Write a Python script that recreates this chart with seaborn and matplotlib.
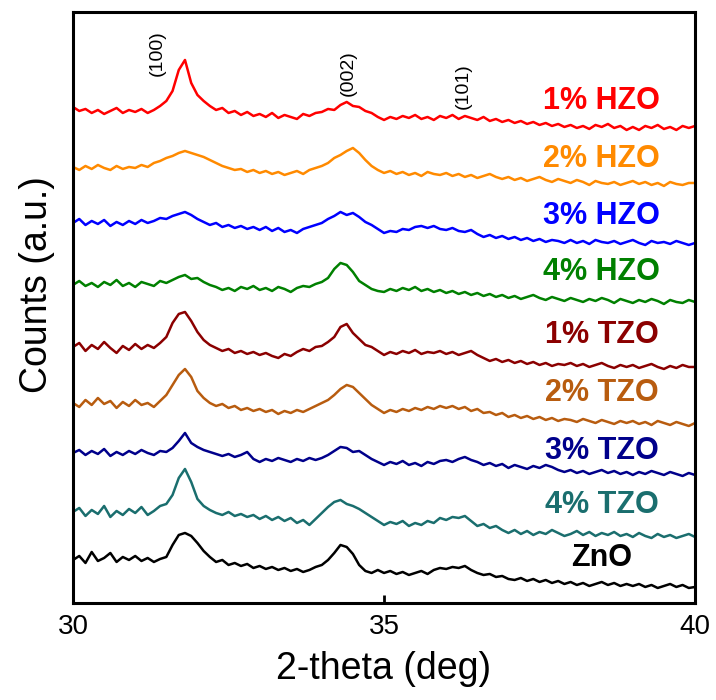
import numpy as np
import pandas as pd
import seaborn as sns
import matplotlib.pyplot as plt

# 2-theta grid (deg), one reading every 0.1 deg
two_theta = [round(30 + 0.1 * i, 1) for i in range(101)]

# intensities (a.u.), already stacked as in the figure
hzo_1 = [496, 492, 494, 490, 493, 489, 492, 495, 490, 493,
         491, 494, 490, 493, 497, 502, 512, 533, 543, 520,
         508, 502, 497, 493, 495, 490, 492, 488, 491, 487,
         489, 486, 490, 485, 488, 486, 484, 489, 487, 490,
         491, 494, 493, 498, 501, 497, 496, 492, 490, 486,
         483, 486, 484, 487, 485, 488, 484, 486, 483, 487,
         485, 488, 484, 487, 485, 483, 486, 482, 484, 481,
         483, 480, 482, 479, 481, 478, 480, 477, 479, 476,
         478, 475, 477, 474, 478, 476, 479, 475, 477, 473,
         476, 473, 477, 475, 478, 474, 476, 473, 477, 475, 477]
hzo_2 = [436, 433, 437, 434, 438, 435, 433, 437, 434, 436,
         435, 438, 436, 440, 442, 445, 447, 450, 452, 450,
         448, 446, 443, 440, 437, 435, 433, 434, 431, 433,
         430, 432, 429, 431, 428, 430, 432, 429, 433, 435,
         437, 440, 445, 448, 452, 455, 450, 443, 437, 433,
         430, 432, 429, 431, 428, 430, 427, 431, 429, 428,
         430, 427, 429, 426, 428, 425, 427, 429, 426, 424,
         426, 423, 425, 422, 424, 426, 423, 421, 424, 422,
         420, 423, 421, 418, 422, 420, 419, 421, 418, 420,
         422, 419, 421, 418, 420, 417, 421, 419, 418, 420, 420]
hzo_3 = [380, 384, 378, 382, 379, 383, 377, 381, 378, 382,
         379, 383, 380, 382, 385, 384, 387, 389, 391, 388,
         384, 381, 378, 380, 376, 378, 375, 377, 374, 376,
         373, 376, 372, 375, 371, 373, 370, 374, 376, 378,
         380, 384, 387, 391, 388, 390, 386, 381, 378, 374,
         370, 372, 371, 374, 373, 376, 377, 375, 377, 374,
         373, 375, 372, 371, 373, 369, 366, 368, 365, 367,
         364, 366, 363, 365, 362, 364, 361, 363, 362, 360,
         363, 360, 362, 359, 363, 361, 360, 362, 359, 361,
         363, 360, 358, 362, 360, 361, 359, 362, 360, 358, 360]
hzo_4 = [318, 322, 317, 320, 316, 321, 318, 323, 317, 320,
         316, 321, 319, 317, 322, 320, 323, 326, 328, 324,
         325, 321, 318, 316, 313, 315, 312, 316, 314, 317,
         313, 315, 312, 316, 314, 311, 315, 317, 316, 319,
         321, 325, 334, 340, 338, 331, 322, 318, 314, 312,
         311, 314, 312, 315, 313, 316, 312, 314, 311, 313,
         310, 312, 309, 311, 308, 310, 307, 309, 306, 308,
         305, 307, 304, 306, 308, 305, 303, 306, 304, 302,
         305, 303, 301, 304, 302, 305, 303, 300, 304, 302,
         300, 303, 301, 304, 302, 299, 303, 301, 300, 303, 301]
tzo_1 = [256, 260, 252, 258, 254, 261, 255, 250, 257, 253,
         259, 254, 258, 255, 260, 266, 280, 289, 291, 282,
         271, 263, 258, 255, 252, 254, 250, 252, 249, 251,
         248, 250, 247, 245, 249, 247, 251, 254, 252, 256,
         257, 261, 266, 276, 279, 270, 264, 258, 256, 252,
         248, 251, 249, 252, 250, 253, 249, 251, 250, 252,
         249, 251, 248, 250, 252, 248, 245, 242, 244, 241,
         243, 240, 242, 239, 241, 238, 240, 237, 239, 238,
         240, 237, 239, 236, 238, 240, 237, 235, 238, 236,
         238, 235, 237, 239, 236, 234, 237, 235, 238, 236, 236]
tzo_2 = [200, 196, 203, 198, 205, 199, 202, 195, 201, 197,
         203, 198, 200, 196, 202, 208, 218, 228, 234, 226,
         212, 205, 200, 197, 199, 195, 197, 193, 195, 192,
         194, 191, 193, 189, 192, 190, 193, 191, 194, 197,
         200, 203, 208, 214, 218, 216, 210, 204, 198, 194,
         190, 193, 191, 194, 192, 195, 193, 196, 194, 197,
         195, 197, 194, 196, 192, 194, 190, 191, 188, 190,
         186, 188, 185, 187, 184, 186, 183, 185, 182, 184,
         183, 181, 184, 182, 180, 183, 181, 179, 182, 180,
         182, 179, 181, 178, 182, 180, 178, 181, 179, 177, 180]
tzo_3 = [150, 153, 148, 152, 149, 154, 147, 151, 148, 152,
         149, 153, 150, 148, 152, 151, 155, 162, 170, 160,
         156, 153, 151, 149, 147, 149, 146, 148, 151, 144,
         141, 144, 142, 145, 143, 141, 144, 142, 145, 143,
         145, 148, 152, 156, 155, 151, 152, 148, 144, 141,
         138, 141, 139, 142, 138, 140, 137, 141, 139, 142,
         143, 141, 144, 146, 143, 141, 138, 140, 137, 139,
         135, 138, 136, 134, 137, 135, 138, 136, 133, 131,
         133, 130, 132, 129, 131, 133, 130, 132, 129, 131,
         128, 131, 129, 132, 130, 128, 131, 129, 127, 130, 128]
tzo_4 = [91, 95, 87, 93, 89, 97, 86, 92, 88, 94,
         90, 96, 88, 92, 97, 99, 108, 125, 134, 121,
         104, 97, 93, 90, 88, 91, 87, 89, 86, 88,
         84, 87, 83, 86, 82, 85, 80, 83, 78, 84,
         90, 96, 101, 103, 99, 97, 94, 90, 86, 82,
         78, 81, 79, 82, 77, 80, 78, 82, 80, 85,
         83, 86, 85, 87, 82, 77, 79, 75, 77, 73,
         70, 73, 69, 72, 68, 71, 69, 73, 70, 67,
         69, 72, 68, 71, 67, 70, 68, 71, 67, 69,
         66, 70, 67, 65, 69, 66, 68, 65, 67, 69, 66]
zno = [43, 47, 40, 51, 42, 45, 50, 41, 46, 43,
       47, 42, 45, 41, 44, 46, 58, 68, 70, 67,
       60, 52, 46, 41, 43, 38, 40, 37, 39, 35,
       37, 34, 36, 33, 35, 32, 34, 31, 33, 36,
       38, 43, 50, 58, 56, 49, 38, 32, 30, 33,
       30, 32, 29, 31, 28, 30, 32, 29, 33, 35,
       34, 36, 35, 37, 33, 30, 28, 29, 26, 27,
       24, 23, 25, 22, 24, 21, 23, 20, 22, 19,
       21, 18, 20, 17, 19, 21, 18, 20, 17, 19,
       17, 19, 16, 18, 15, 17, 19, 16, 18, 15, 16]

samples = ['1% HZO', '2% HZO', '3% HZO', '4% HZO',
           '1% TZO', '2% TZO', '3% TZO', '4% TZO', 'ZnO']
series = [hzo_1, hzo_2, hzo_3, hzo_4, tzo_1, tzo_2, tzo_3, tzo_4, zno]
colors = ['#ff0000', '#ff8a00', '#0000ff', '#008000',
          '#8b0000', '#b85c0f', '#00008b', '#1a6e6e', '#000000']
label_y = [502, 444, 387, 331, 268, 210, 152, 98, 45]

peaks = ['(100)', '(002)', '(101)']
peak_x = [31.35, 34.42, 36.27]
peak_y = [550, 530, 517]

# %%
df = pd.concat([pd.DataFrame({'two_theta': two_theta, 'counts': s, 'sample': n})
                for n, s in zip(samples, series)], ignore_index=True)

sns.set_theme(style='white')
plt.rcParams['font.family'] = ['Liberation Sans', 'DejaVu Sans']

fig, ax = plt.subplots(figsize=(7.16, 7.0), dpi=100)
fig.subplots_adjust(left=0.102, right=0.9707, bottom=0.1386, top=0.9829)

sns.lineplot(data=df, x='two_theta', y='counts', hue='sample', hue_order=samples,
             palette=colors, estimator=None, sort=False, linewidth=1.8,
             legend=False, ax=ax)

for name, c, ly in zip(samples, colors, label_y):
    ax.text(38.5, ly, name, color=c, fontsize=22, fontweight='bold',
            ha='center', va='center')

for p, px, py in zip(peaks, peak_x, peak_y):
    ax.text(px, py, p, rotation=90, fontsize=14, color='black',
            ha='center', va='center')

ax.set_xlim(30, 40)
ax.set_ylim(0, 591)
ax.set_xticks([30, 35, 40])
ax.set_yticks([])
ax.tick_params(axis='x', direction='in', length=6, width=2, pad=8,
               labelsize=20, colors='black', bottom=True)
for sp in ax.spines.values():
    sp.set_linewidth(2.2)
    sp.set_color('black')

ax.set_xlabel('2-theta (deg)', fontsize=27, labelpad=8, color='black')
ax.set_ylabel('Counts (a.u.)', fontsize=27, color='black')
ax.yaxis.set_label_coords(-0.029, 0.538)

fig.savefig('out.png', dpi=100)
